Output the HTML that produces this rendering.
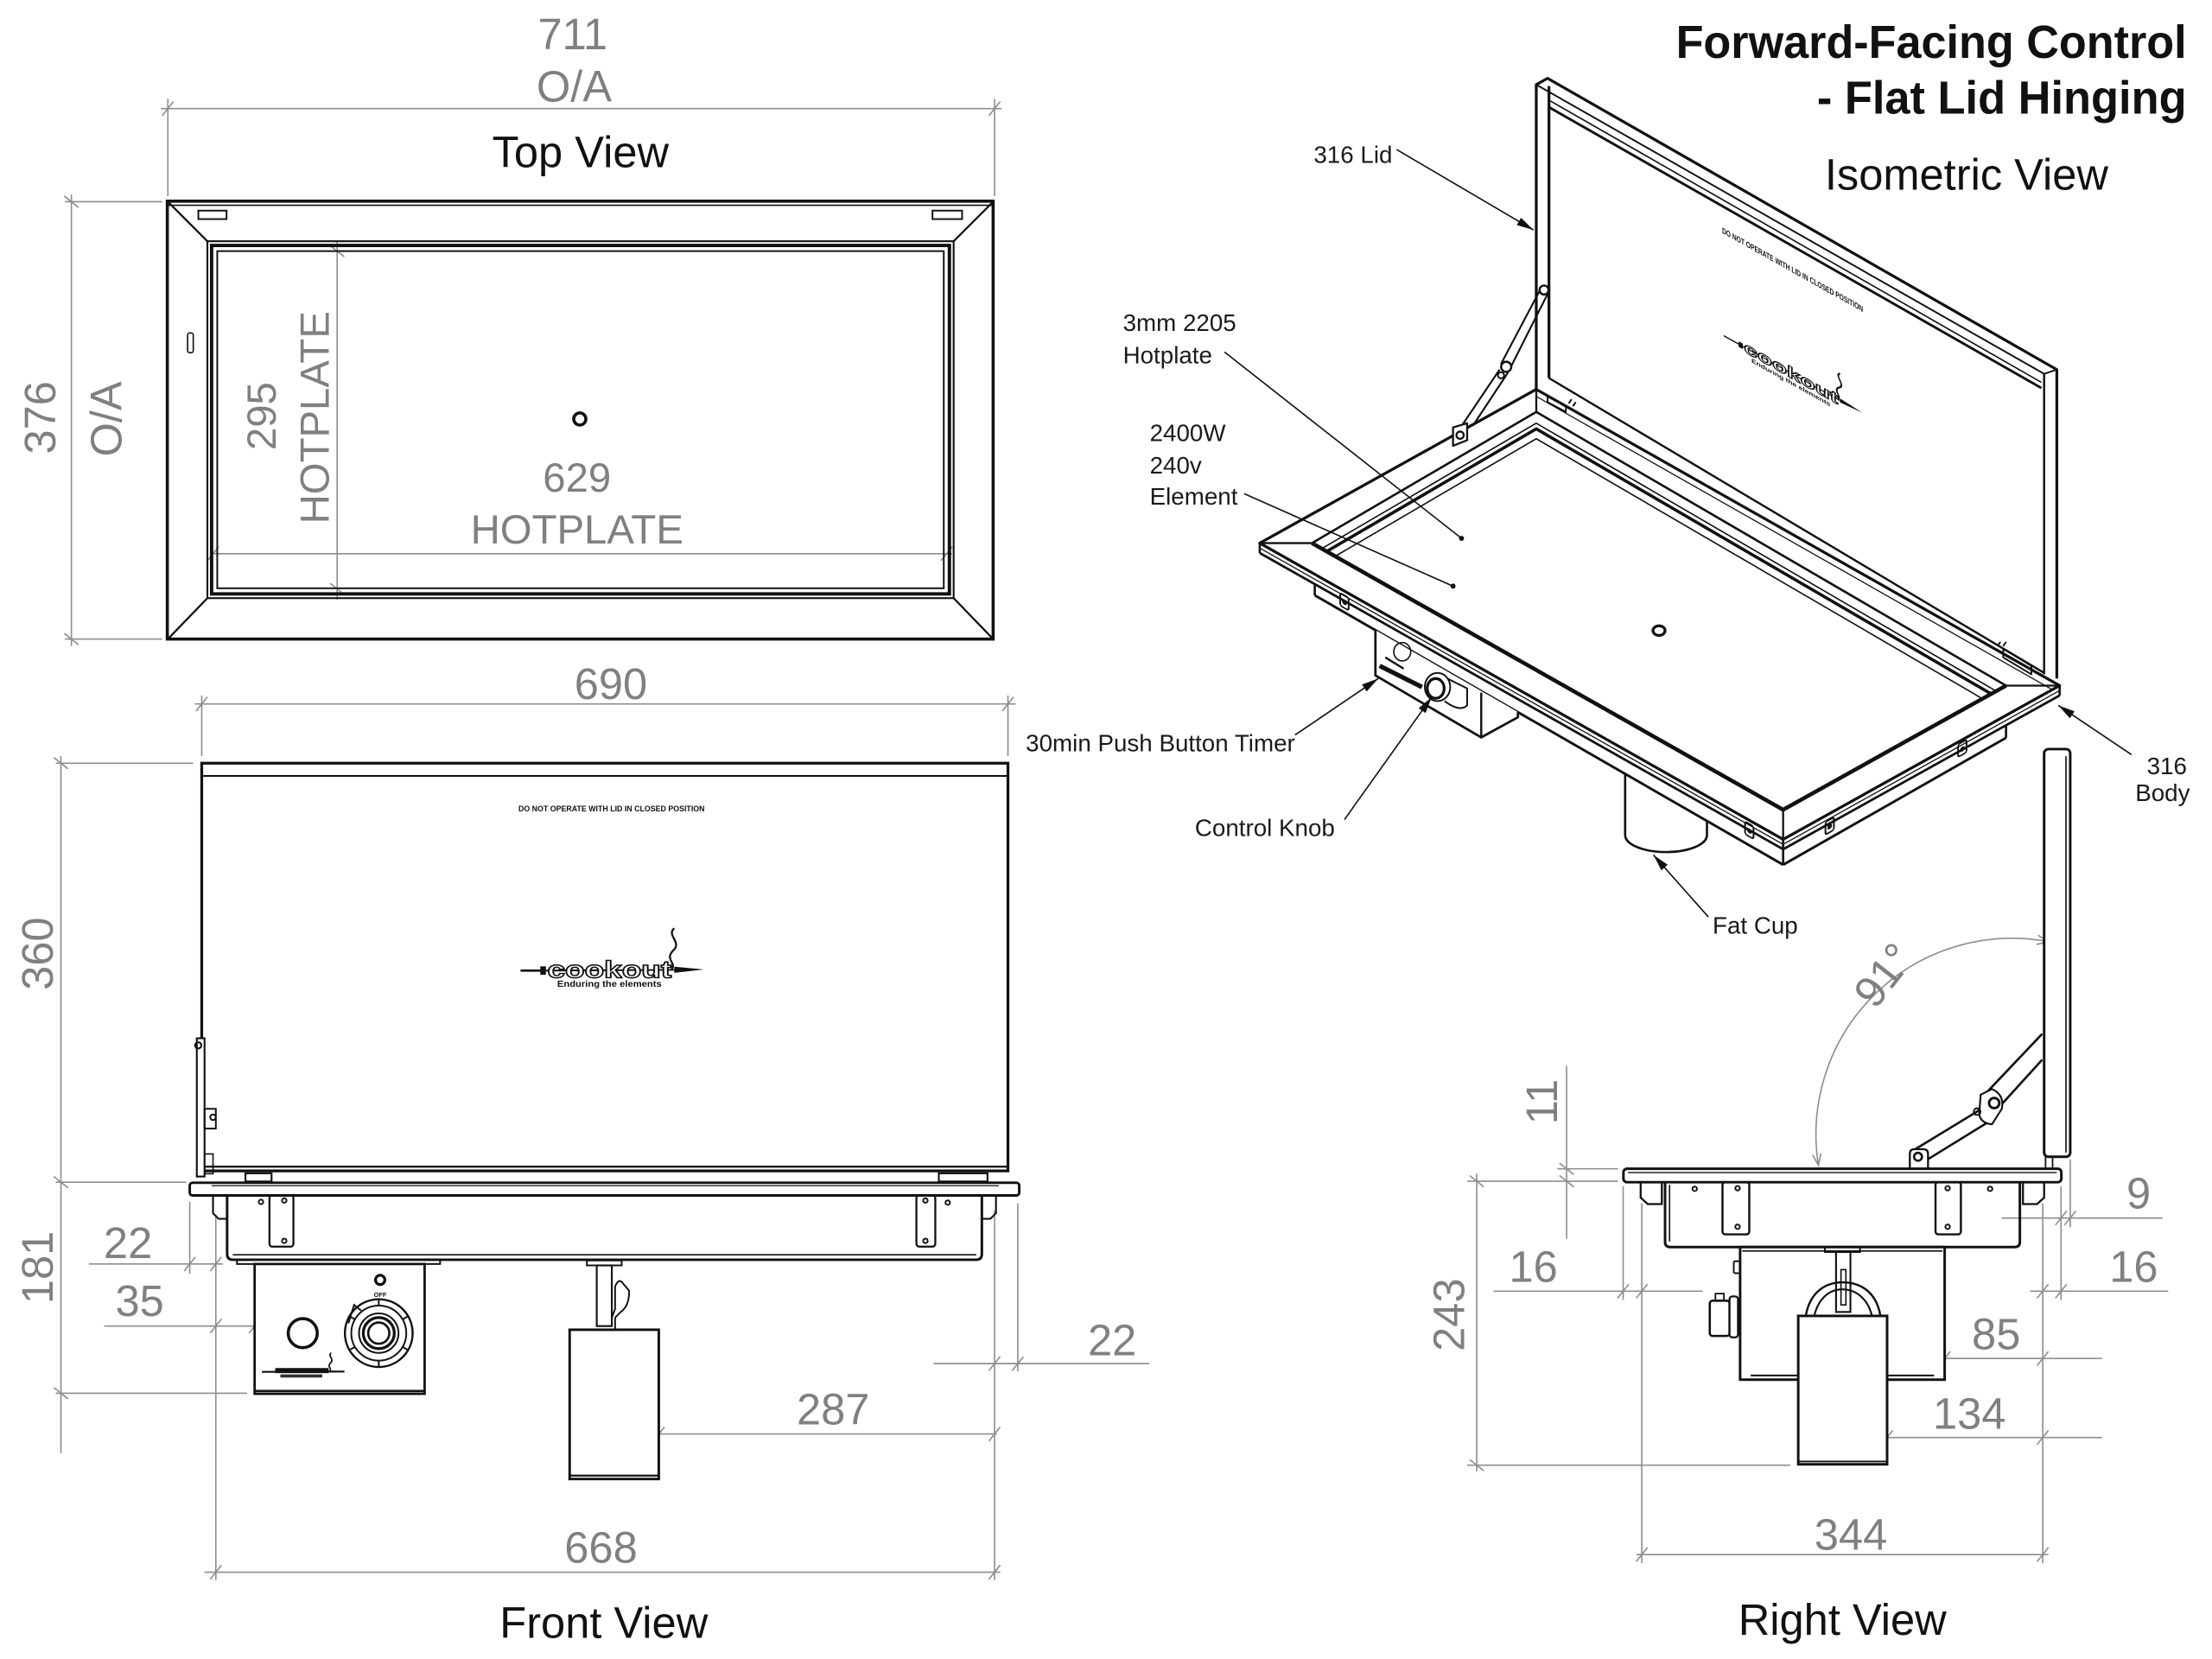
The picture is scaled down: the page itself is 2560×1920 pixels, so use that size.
<!DOCTYPE html>
<html><head><meta charset="utf-8">
<style>
html,body{margin:0;padding:0;background:#fff;}
svg{display:block;}
</style></head>
<body>
<svg xmlns="http://www.w3.org/2000/svg" width="2560" height="1920" viewBox="0 0 1568 1176">
<rect width="1568" height="1176" fill="#fff"/>
<defs>
<marker id="ar" viewBox="0 0 12 6" refX="12" refY="3" markerWidth="12" markerHeight="6" orient="auto" markerUnits="userSpaceOnUse"><path d="M0,0 L12,3 L0,6 z" fill="#111"/></marker>
</defs>

<!-- ================= DIMENSIONS (gray) ================= -->
<g stroke="#8e8e8e" stroke-width="1" fill="none">
<line x1="114" y1="77" x2="710" y2="77"/><line x1="115" y1="82" x2="123" y2="72"/><line x1="701" y1="82" x2="709" y2="72"/>
<line x1="119" y1="70" x2="119" y2="139"/><line x1="705" y1="70" x2="705" y2="139"/>
<line x1="50.6" y1="138" x2="50.6" y2="458"/><line x1="45.6" y1="139" x2="55.6" y2="147"/><line x1="45.6" y1="449" x2="55.6" y2="457"/>
<line x1="46" y1="143" x2="115" y2="143"/><line x1="46" y1="453" x2="115" y2="453"/>
<line x1="239" y1="170.6" x2="239" y2="425"/><line x1="234" y1="174" x2="244" y2="182"/><line x1="234" y1="413.5" x2="244" y2="421.5"/>
<line x1="149" y1="392.5" x2="675" y2="392.5"/><line x1="147" y1="397.5" x2="155" y2="387.5"/><line x1="667" y1="397.5" x2="675" y2="387.5"/>
<line x1="138" y1="499" x2="720" y2="499"/><line x1="139" y1="504" x2="147" y2="494"/><line x1="710.5" y1="504" x2="718.5" y2="494"/>
<line x1="143" y1="493" x2="143" y2="536"/><line x1="714.5" y1="493" x2="714.5" y2="536"/>
<line x1="43.2" y1="536" x2="43.2" y2="1030"/><line x1="38.2" y1="537" x2="48.2" y2="545"/><line x1="38.2" y1="834" x2="48.2" y2="842"/><line x1="38.2" y1="983.6" x2="48.2" y2="991.6"/>
<line x1="39.5" y1="541" x2="137" y2="541"/><line x1="39.5" y1="838" x2="132" y2="838"/><line x1="39.5" y1="987.6" x2="175" y2="987.6"/>
<line x1="63" y1="896" x2="158" y2="896"/><line x1="130.5" y1="901" x2="138.5" y2="891"/><line x1="149" y1="901" x2="157" y2="891"/>
<line x1="134.5" y1="852" x2="134.5" y2="903"/>
<line x1="73.8" y1="940" x2="182" y2="940"/><line x1="149" y1="945" x2="157" y2="935"/><line x1="176.5" y1="945" x2="184.5" y2="935"/>
<line x1="153" y1="861" x2="153" y2="1120"/><line x1="705" y1="858" x2="705" y2="1120"/>
<line x1="661.8" y1="966.6" x2="814.7" y2="966.6"/><line x1="701" y1="971.6" x2="709" y2="961.6"/><line x1="717.5" y1="971.6" x2="725.5" y2="961.6"/>
<line x1="721.5" y1="853" x2="721.5" y2="972"/>
<line x1="458.8" y1="1016.5" x2="706.6" y2="1016.5"/><line x1="463" y1="1021.5" x2="471" y2="1011.5"/><line x1="701" y1="1021.5" x2="709" y2="1011.5"/>
<line x1="145" y1="1114.5" x2="709" y2="1114.5"/><line x1="149" y1="1119.5" x2="157" y2="1109.5"/><line x1="701" y1="1119.5" x2="709" y2="1109.5"/>
<line x1="1110.5" y1="755.5" x2="1110.5" y2="878"/><line x1="1105.5" y1="824.5" x2="1115.5" y2="832.5"/><line x1="1105.5" y1="833.3" x2="1115.5" y2="841.3"/>
<line x1="1104" y1="828.5" x2="1147" y2="828.5"/><line x1="1040" y1="837.3" x2="1147" y2="837.3"/>
<line x1="1046.8" y1="832" x2="1046.8" y2="1043"/><line x1="1041.8" y1="833.3" x2="1051.8" y2="841.3"/><line x1="1041.8" y1="1034.6" x2="1051.8" y2="1042.6"/>
<line x1="1040" y1="1038.6" x2="1269" y2="1038.6"/>
<line x1="1058.8" y1="915.3" x2="1207" y2="915.3"/><line x1="1146.6" y1="920.3" x2="1154.6" y2="910.3"/><line x1="1159.8" y1="920.3" x2="1167.8" y2="910.3"/>
<line x1="1150.6" y1="841" x2="1150.6" y2="921.5"/><line x1="1163.8" y1="853" x2="1163.8" y2="1108"/>
<line x1="1160" y1="1102" x2="1452" y2="1102"/><line x1="1159.8" y1="1107" x2="1167.8" y2="1097"/><line x1="1444" y1="1107" x2="1452" y2="1097"/>
<line x1="1448" y1="853" x2="1448" y2="1108"/>
<line x1="1295" y1="1019" x2="1490" y2="1019"/><line x1="1333.7" y1="1024" x2="1341.7" y2="1014"/><line x1="1444" y1="1024" x2="1452" y2="1014"/>
<line x1="1336" y1="963" x2="1490" y2="963"/><line x1="1374.5" y1="968" x2="1382.5" y2="958"/><line x1="1444" y1="968" x2="1452" y2="958"/>
<line x1="1439" y1="915.3" x2="1537" y2="915.3"/><line x1="1444" y1="920.3" x2="1452" y2="910.3"/><line x1="1457" y1="920.3" x2="1465" y2="910.3"/>
<line x1="1461" y1="841" x2="1461" y2="921.5"/>
<line x1="1418.8" y1="863.4" x2="1533" y2="863.4"/><line x1="1457" y1="868.4" x2="1465" y2="858.4"/><line x1="1463.5" y1="868.4" x2="1471.5" y2="858.4"/>
<line x1="1467.5" y1="822" x2="1467.5" y2="870"/>
<path d="M1289,826 A139,139 0 0 1 1452,667.5"/>
<path d="M1290.7,817.6 L1289,826 L1284.8,818.6"/>
<path d="M1443.6,669.5 L1452,667.5 L1444.7,663"/>
</g>

<g font-family="Liberation Sans, sans-serif" fill="#808080" font-size="31" text-anchor="middle">
<text x="406" y="35">711</text>
<text x="407" y="72">O/A</text>
<text transform="translate(39.1,296) rotate(-90)">376</text>
<text transform="translate(86.1,297) rotate(-90)">O/A</text>
<text font-size="29" transform="translate(195.4,295) rotate(-90)">295</text>
<text font-size="29" transform="translate(233,296) rotate(-90)">HOTPLATE</text>
<text font-size="29" x="409" y="348.4">629</text>
<text font-size="29" x="409" y="385.4">HOTPLATE</text>
<text x="433" y="495.5">690</text>
<text transform="translate(37.5,676) rotate(-90)">360</text>
<text transform="translate(37.5,898.5) rotate(-90)">181</text>
<text x="90.7" y="891.8">22</text>
<text x="99" y="933">35</text>
<text x="788.4" y="960.8">22</text>
<text x="590.6" y="1009.8">287</text>
<text x="426" y="1107.8">668</text>
<text transform="translate(1103.6,781) rotate(-90)">11</text>
<text transform="translate(1038,932) rotate(-90)">243</text>
<text x="1087" y="908.6">16</text>
<text x="1512.5" y="908.6">16</text>
<text x="1516" y="856.7">9</text>
<text x="1415" y="956.3">85</text>
<text x="1396" y="1012.7">134</text>
<text x="1312" y="1098.6">344</text>
<text transform="translate(1335,691) rotate(-52)" y="11">91°</text>
</g>

<g font-family="Liberation Sans, sans-serif" fill="#111" font-size="31" text-anchor="middle">
<text x="411.5" y="118.5">Top View</text>
<text x="428" y="1161">Front View</text>
<text x="1306" y="1159">Right View</text>
<text x="1394" y="134.5">Isometric View</text>
</g>
<g font-family="Liberation Sans, sans-serif" fill="#111" font-size="33" font-weight="bold">
<text x="1188" y="41" textLength="362" lengthAdjust="spacingAndGlyphs">Forward-Facing Control</text>
<text x="1288" y="80.5" textLength="262" lengthAdjust="spacingAndGlyphs">- Flat Lid Hinging</text>
</g>

<g font-family="Liberation Sans, sans-serif" fill="#1a1a1a" font-size="17">
<text x="987" y="115.5" text-anchor="end">316 Lid</text>
<text x="796" y="234.7">3mm 2205</text>
<text x="796" y="257.7">Hotplate</text>
<text x="815" y="312.7">2400W</text>
<text x="815" y="335.7">240v</text>
<text x="815" y="357.7">Element</text>
<text x="918" y="532.7" text-anchor="end">30min Push Button Timer</text>
<text x="847" y="592.7">Control Knob</text>
<text x="1214" y="661.7">Fat Cup</text>
<text x="1536" y="548.7" text-anchor="middle">316</text>
<text x="1533" y="567.7" text-anchor="middle">Body</text>
</g>

<!-- ================= TOP VIEW ================= -->
<g stroke="#111" fill="none">
<rect x="118.6" y="142.6" width="585.4" height="310.4" stroke-width="2.2"/>
<line x1="119" y1="145.5" x2="704" y2="145.5" stroke-width="1"/>
<line x1="119" y1="143" x2="147" y2="171" stroke-width="1.4"/>
<line x1="704" y1="143" x2="676" y2="171" stroke-width="1.4"/>
<line x1="119" y1="453" x2="147" y2="424" stroke-width="1.4"/>
<line x1="704" y1="453" x2="676" y2="424" stroke-width="1.4"/>
<rect x="147" y="171" width="529" height="253" stroke-width="1.3"/>
<rect x="150" y="174" width="523" height="247" stroke-width="2.4"/>
<rect x="154" y="178" width="515" height="239" stroke-width="1.2"/>
<rect x="140.6" y="149.3" width="20" height="6" stroke-width="1.2"/>
<rect x="661" y="149.3" width="21" height="6" stroke-width="1.2"/>
<rect x="133" y="236" width="4" height="14" rx="1.5" stroke-width="1"/>
<circle cx="411" cy="297" r="4.3" stroke-width="2.2"/>
</g>

<!-- ================= FRONT VIEW ================= -->
<g stroke="#111" fill="none">
<rect x="143" y="541" width="571.5" height="289" stroke-width="2"/>
<line x1="144" y1="550" x2="714" y2="550" stroke-width="1.2"/>
<line x1="144" y1="827" x2="714" y2="827" stroke-width="1.4"/>
<rect x="139.5" y="736" width="5.5" height="98" stroke-width="1.3" fill="#fff"/>
<circle cx="140.5" cy="741" r="2.2" stroke-width="1.3"/>
<rect x="145" y="786" width="8" height="14" stroke-width="1.2"/>
<circle cx="151" cy="792" r="2" stroke-width="1.2"/>
<rect x="145" y="818" width="6" height="14" stroke-width="1"/>
<rect x="174" y="831.7" width="18.5" height="5.8" stroke-width="1.3"/>
<rect x="665.5" y="831.7" width="34.5" height="5.8" stroke-width="1.3"/>
<rect x="134.5" y="838.4" width="588" height="9" rx="2" stroke-width="1.8" fill="#fff"/>
<line x1="150" y1="840.5" x2="708" y2="840.5" stroke-width="0.8"/>
<path d="M151,847.3 V860 L155,864 H161 V847.3" stroke-width="1.3"/>
<path d="M706,847.3 V860 L702,864 H696 V847.3" stroke-width="1.3"/>
<path d="M161,847.3 V889 Q161,893 165,893 H692 Q696,893 696,889 V847.3" stroke-width="1.8"/>
<line x1="165" y1="889.5" x2="692" y2="889.5" stroke-width="1"/>
<rect x="191" y="847.3" width="17" height="36.4" rx="2" stroke-width="1.4"/>
<rect x="649.6" y="847.3" width="13.4" height="36.4" rx="2" stroke-width="1.4"/>
<circle cx="185" cy="852" r="1.6" stroke-width="1.2"/>
<circle cx="201.5" cy="851" r="1.6" stroke-width="1.2"/>
<circle cx="201.5" cy="879.6" r="1.6" stroke-width="1.2"/>
<circle cx="656" cy="851" r="1.6" stroke-width="1.2"/>
<circle cx="656" cy="879.6" r="1.6" stroke-width="1.2"/>
<circle cx="671.8" cy="852.5" r="1.6" stroke-width="1.2"/>
<rect x="168" y="893" width="144" height="3" stroke-width="1.2"/>
<rect x="180.5" y="896" width="120.5" height="92" stroke-width="1.7" fill="#fff"/>
<line x1="181" y1="986" x2="301" y2="986" stroke-width="1.6"/>
<circle cx="214.6" cy="945" r="10.3" stroke-width="2.2"/>
<circle cx="268.5" cy="945" r="24" stroke-width="1.5"/>
<circle cx="268.5" cy="945" r="19.5" stroke-width="1.2"/>
<circle cx="268.5" cy="945" r="14" stroke-width="1.2"/>
<circle cx="268.5" cy="945" r="11" stroke-width="2"/>
<circle cx="268.5" cy="945" r="7.5" stroke-width="1.6"/>
<path d="M285.4,954.8 L289.3,957 M268.5,964.5 V969 M251.6,954.8 L247.7,957 M285.4,935.3 L289.3,933 M268.5,925.5 V921 M251.6,935.3 L247.7,933" stroke-width="1.2"/>
<path d="M247,938 L251,925 L256,929" stroke-width="1.2"/>
<circle cx="269.5" cy="907.3" r="3.3" stroke-width="2"/>
<rect x="416" y="893.5" width="24.7" height="3.5" stroke-width="1.2"/>
<rect x="423" y="897" width="10.7" height="43" stroke-width="1.3"/>
<path d="M433.7,934 L436,928 L436,912 Q438.5,906 441,909 L446,915 Q446,926 440,930 L436,934" stroke-width="1.2"/>
<line x1="436" y1="934" x2="436" y2="942.6" stroke-width="1.2"/>
<rect x="403.8" y="942.6" width="63.2" height="105.8" stroke-width="1.8" fill="#fff"/>
<line x1="404" y1="1046" x2="467" y2="1046" stroke-width="1.4"/>
</g>
<text x="269.5" y="919.5" font-family="Liberation Sans, sans-serif" font-size="4.5" font-weight="bold" text-anchor="middle" fill="#111">OFF</text>
<text x="367.5" y="575" font-family="Liberation Sans, sans-serif" font-size="5.5" font-weight="bold" fill="#111" textLength="132" lengthAdjust="spacingAndGlyphs">DO NOT OPERATE WITH LID IN CLOSED POSITION</text>

<g>
<line x1="369" y1="688" x2="385" y2="688" stroke="#111" stroke-width="1.6"/>
<rect x="383" y="685" width="4" height="6" fill="#111"/>
<line x1="387" y1="688" x2="480" y2="687.5" stroke="#111" stroke-width="1.2"/>
<polygon points="478,685.2 499,687.2 478,689.6" fill="#111"/>
<text x="432" y="693" font-family="Liberation Sans, sans-serif" font-size="17" font-weight="bold" fill="#fff" stroke="#111" stroke-width="0.9" text-anchor="middle" textLength="88" lengthAdjust="spacingAndGlyphs">cookout</text>
<text x="432" y="699.5" font-family="Liberation Sans, sans-serif" font-size="6" font-weight="bold" fill="#111" text-anchor="middle" textLength="74" lengthAdjust="spacingAndGlyphs">Enduring the elements</text>
<path d="M478,658 C472,663 484,668 477,674 C471,680 480,683 476,687" stroke="#111" stroke-width="1.4" fill="none"/>
</g>
<g transform="matrix(0.45,0,0,0.45,19.6,662.85)">
<line x1="369" y1="688" x2="499" y2="687.5" stroke="#111" stroke-width="3"/>
<rect x="390" y="682" width="84" height="8" fill="#111"/>
<rect x="398" y="692" width="66" height="5" fill="#333"/>
<path d="M478,658 C472,663 484,668 477,674 C471,680 480,683 476,687" stroke="#111" stroke-width="2.4" fill="none"/>
</g>

<!-- ================= ISOMETRIC VIEW ================= -->
<g stroke="#111" fill="none" stroke-linejoin="round">
<path d="M1089,276 L1089,60 L1097,55.5 L1458,262 L1458,481" stroke-width="2"/>
<line x1="1089" y1="60" x2="1449" y2="265" stroke-width="1.2"/>
<line x1="1449" y1="265" x2="1458" y2="262" stroke-width="1.2"/>
<line x1="1449" y1="265" x2="1449" y2="478" stroke-width="1.5"/>
<line x1="1098" y1="61" x2="1098" y2="268" stroke-width="2"/>
<line x1="1098" y1="71" x2="1447" y2="271" stroke-width="1"/>
<line x1="1098" y1="76" x2="1447" y2="275" stroke-width="1.8"/>
<line x1="1098" y1="268" x2="1449" y2="477" stroke-width="1.4"/>
<line x1="1092" y1="205" x2="1064" y2="258" stroke-width="1.3"/>
<line x1="1097.5" y1="207.5" x2="1070" y2="262" stroke-width="1.3"/>
<line x1="1063" y1="262" x2="1032" y2="308" stroke-width="1.3"/>
<line x1="1069" y1="264" x2="1038" y2="311" stroke-width="1.3"/>
<circle cx="1094.5" cy="205.6" r="3.2" stroke-width="1.5" fill="#fff"/>
<circle cx="1067.7" cy="260" r="3.6" stroke-width="1.5" fill="#fff"/>
<circle cx="1064" cy="266" r="2.2" stroke-width="1.2"/>
<polygon points="893,385 1089,276 1460,486 1264,595" stroke-width="2" fill="#fff"/>
<path d="M1030,303 L1040,300 L1040,312 L1030,316 Z" stroke-width="1.4" fill="#fff"/>
<circle cx="1035" cy="308.5" r="2.6" stroke-width="1.4"/>
<line x1="1098" y1="268" x2="1449" y2="477" stroke-width="1.4"/>
<line x1="1089" y1="281" x2="1455" y2="489" stroke-width="0.8"/>
<polyline points="930,385 1089,292 1422,486" stroke-width="1.6"/>
<polyline points="936.9,388.9 1089,300 1415,489.9" stroke-width="1"/>
<polyline points="940.4,390.9 1089,304 1411.5,491.9" stroke-width="2.2"/>
<polyline points="946.5,394.3 1089,311 1405.3,495.3" stroke-width="1"/>
<polyline points="930,385 1264,574 1422,486" stroke-width="2.8"/>
<line x1="893" y1="385" x2="930" y2="385" stroke-width="1.4"/>
<line x1="1089" y1="276" x2="1089" y2="292" stroke-width="1.4"/>
<line x1="1460" y1="486" x2="1422" y2="486" stroke-width="1.4"/>
<line x1="1264" y1="595" x2="1264" y2="574" stroke-width="1.4"/>
<ellipse cx="1176" cy="447" rx="4.3" ry="3.4" stroke-width="2"/>
<line x1="893" y1="388.5" x2="1264" y2="598.5" stroke-width="0.8"/>
<line x1="1264" y1="598.5" x2="1460" y2="489.5" stroke-width="0.8"/>
<line x1="893" y1="392" x2="1264" y2="602" stroke-width="1.7"/>
<line x1="1264" y1="602" x2="1460" y2="493" stroke-width="1.7"/>
<line x1="893" y1="385" x2="893" y2="392" stroke-width="1.6"/>
<line x1="1460" y1="486" x2="1460" y2="493" stroke-width="1.6"/>
<line x1="1264" y1="595" x2="1264" y2="613" stroke-width="1.6"/>
<path d="M1152,548.5 L1152,592 A29,12 0 0 0 1210,592 L1210,582" stroke-width="1.6" fill="#fff"/>
<line x1="932" y1="413.5" x2="932" y2="422" stroke-width="1.6"/>
<line x1="932" y1="422" x2="1264" y2="613" stroke-width="1.8"/>
<line x1="1264" y1="613" x2="1422" y2="523" stroke-width="1.8"/>
<line x1="1422" y1="514" x2="1422" y2="523" stroke-width="1.6"/>
<path d="M975,446.7 L975,478.8 L1050,522.7 L1076,508.4 L1076,504.8" stroke-width="1.7" fill="#fff"/>
<line x1="1050" y1="522.7" x2="1050" y2="491" stroke-width="1.5"/>
<ellipse cx="994" cy="462" rx="6" ry="6.5" stroke-width="1"/>
<path d="M1024,480 L1040,488 L1040,500 Q1035,505 1024,497" stroke-width="1.2"/>
<ellipse cx="1019" cy="487" rx="9" ry="10" stroke-width="1.2" fill="#fff"/>
<ellipse cx="1017.7" cy="488" rx="6" ry="7" stroke-width="2"/>
<line x1="978" y1="472" x2="1008" y2="487" stroke-width="3.2"/>
<line x1="982" y1="466" x2="995" y2="474" stroke-width="1.5"/>
<g transform="translate(953,427) skewY(29.5)"><rect x="-3" y="-5" width="6" height="9" rx="1.5" stroke-width="1.2"/><circle r="1.2" fill="#111"/></g>
<g transform="translate(1240,589) skewY(29.5)"><rect x="-3" y="-5" width="6" height="9" rx="1.5" stroke-width="1.2"/><circle r="1.2" fill="#111"/></g>
<g transform="translate(1297,586) skewY(-29)"><rect x="-3" y="-5" width="6" height="9" rx="1.5" stroke-width="1.2"/><circle r="1.2" fill="#111"/></g>
<g transform="translate(1391,531) skewY(-29)"><rect x="-3" y="-5" width="6" height="9" rx="1.5" stroke-width="1.2"/><circle r="1.2" fill="#111"/></g>
<path d="M1097,281 L1110,288 L1110,292 L1097,285 Z" stroke-width="1.2"/>
<path d="M1112,286 l2,-3 M1115,288 l2,-3 M1113,290 l6,3" stroke-width="1.2"/>
<path d="M1420,460 L1440,472 L1440,478 L1420,466 Z" stroke-width="1.2"/>
<path d="M1416,458 l2,-3 M1420,458 l2,-3" stroke-width="1.2"/>
</g>
<g transform="matrix(0.757,0.425,0,0.65,942.5,-366.1)">
<text x="367.5" y="577" font-family="Liberation Sans, sans-serif" font-size="9" font-weight="bold" fill="#111" textLength="132" lengthAdjust="spacingAndGlyphs">DO NOT OPERATE WITH LID IN CLOSED POSITION</text>
<line x1="369" y1="688" x2="385" y2="688" stroke="#111" stroke-width="1.6"/>
<rect x="383" y="685" width="4" height="6" fill="#111"/>
<line x1="387" y1="688" x2="480" y2="687.5" stroke="#111" stroke-width="1.2"/>
<polygon points="478,685.2 499,687.2 478,689.6" fill="#111"/>
<text x="432" y="693" font-family="Liberation Sans, sans-serif" font-size="17" font-weight="bold" fill="#fff" stroke="#111" stroke-width="1.1" text-anchor="middle" textLength="88" lengthAdjust="spacingAndGlyphs">cookout</text>
<text x="432" y="700" font-family="Liberation Sans, sans-serif" font-size="6.5" font-weight="bold" fill="#111" text-anchor="middle" textLength="74" lengthAdjust="spacingAndGlyphs">Enduring the elements</text>
<path d="M478,658 C472,663 484,668 477,674 C471,680 480,683 476,687" stroke="#111" stroke-width="1.6" fill="none"/>
</g>

<!-- ================= RIGHT VIEW ================= -->
<g stroke="#111" fill="none">
<rect x="1449" y="531" width="18.5" height="289" rx="3" stroke-width="1.8" fill="#fff"/>
<line x1="1464.5" y1="536" x2="1464.5" y2="817" stroke-width="1"/>
<rect x="1450" y="820" width="5" height="8.5" stroke-width="1.1"/>
<line x1="1447.6" y1="732.9" x2="1408.9" y2="773.7" stroke-width="1.6"/>
<line x1="1447.6" y1="751.2" x2="1417" y2="784.9" stroke-width="1.6"/>
<line x1="1403" y1="787" x2="1356" y2="815.6" stroke-width="1.6"/>
<line x1="1410" y1="795" x2="1366.7" y2="821.7" stroke-width="1.6"/>
<path d="M1404,776 L1412,772 Q1421,776 1419,786 L1412,797 Q1404,796 1403,790 Z" stroke-width="1.3" fill="#fff"/>
<circle cx="1413.6" cy="781.9" r="3.6" stroke-width="1.8"/>
<circle cx="1401.5" cy="788" r="2.4" stroke-width="1.2"/>
<path d="M1353.8,828 V818 Q1353.8,814.6 1357,814.6 H1363.5 Q1366.7,814.6 1366.7,818 V828" stroke-width="1.4" fill="#fff"/>
<circle cx="1359.6" cy="820" r="2.8" stroke-width="1.6"/>
<rect x="1150.8" y="828.5" width="310.4" height="9.5" rx="2.5" stroke-width="1.8" fill="#fff"/>
<line x1="1154" y1="831.2" x2="1458" y2="831.2" stroke-width="0.8"/>
<path d="M1163,838 V849 L1168,853.5 H1178 V838" stroke-width="1.4"/>
<path d="M1449,838 V849 L1444,853.5 H1434 V838" stroke-width="1.4"/>
<path d="M1180.3,838 V880.5 Q1180.3,884 1184,884 H1428 Q1431.8,884 1431.8,880.5 V838" stroke-width="1.8"/>
<line x1="1183.5" y1="840" x2="1183.5" y2="880" stroke-width="1"/>
<rect x="1221" y="838" width="19" height="37" rx="2" stroke-width="1.5"/>
<rect x="1372" y="838" width="18" height="37" rx="2" stroke-width="1.5"/>
<circle cx="1231.7" cy="842.3" r="1.6" stroke-width="1.2"/>
<circle cx="1231.7" cy="869.6" r="1.6" stroke-width="1.2"/>
<circle cx="1380.6" cy="842.3" r="1.6" stroke-width="1.2"/>
<circle cx="1380.6" cy="869.6" r="1.6" stroke-width="1.2"/>
<circle cx="1201.3" cy="842.7" r="1.6" stroke-width="1.2"/>
<circle cx="1410.7" cy="842.7" r="1.6" stroke-width="1.2"/>
<rect x="1233.5" y="884" width="145" height="94" stroke-width="1.8" fill="#fff"/>
<line x1="1235" y1="886.8" x2="1377" y2="886.8" stroke-width="1"/>
<line x1="1241" y1="975" x2="1371" y2="975" stroke-width="1.2"/>
<rect x="1229" y="894" width="4.5" height="8.5" rx="1" stroke-width="1.2"/>
<rect x="1212" y="922" width="14" height="25" rx="2" stroke-width="1.6" fill="#fff"/>
<rect x="1226" y="919" width="6" height="29" rx="2" stroke-width="1.4" fill="#fff"/>
<rect x="1216" y="917" width="6" height="5" stroke-width="1.1"/>
<rect x="1293.6" y="884" width="24.9" height="3.5" stroke-width="1.2"/>
<rect x="1301.5" y="887.5" width="10.2" height="42.5" stroke-width="1.3" fill="#fff"/>
<rect x="1305" y="900" width="3.5" height="25" stroke-width="1"/>
<path d="M1280,933 C1283,915 1295,909 1306,909 C1318,909 1330,915 1333,933" stroke-width="1.5"/>
<path d="M1286,933 C1289,920 1297,914 1306,914 C1315,914 1324,920 1327,933" stroke-width="1.3"/>
<rect x="1274.7" y="932.8" width="63" height="105.2" stroke-width="1.8" fill="#fff"/>
<line x1="1275" y1="1036" x2="1337.5" y2="1036" stroke-width="1.2"/>
</g>

<!-- leaders on top -->
<g stroke="#111" stroke-width="1" fill="none">
<line x1="990" y1="106" x2="1087" y2="163" marker-end="url(#ar)"/>
<line x1="868" y1="249.5" x2="1036" y2="381.6"/>
<line x1="882" y1="350" x2="1030" y2="415.5"/>
<line x1="918" y1="521" x2="977" y2="481" marker-end="url(#ar)"/>
<line x1="953" y1="581" x2="1015" y2="494" marker-end="url(#ar)"/>
<line x1="1211" y1="650" x2="1172" y2="606" marker-end="url(#ar)"/>
<line x1="1511" y1="535" x2="1459" y2="500" marker-end="url(#ar)"/>
</g>
<circle cx="1036" cy="381.6" r="1.8" fill="#111"/>
<circle cx="1030" cy="415.5" r="1.8" fill="#111"/>

</svg>
</body></html>
